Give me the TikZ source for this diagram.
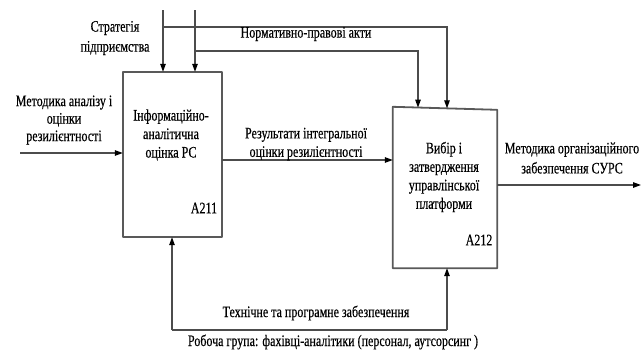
\documentclass[tikz,border=0pt]{standalone}
\usepackage{fontspec}
\setmainfont{Liberation Serif}[FakeStretch=0.75,FakeBold=0.4]
\usetikzlibrary{arrows.meta,calc}
\begin{document}
\begin{tikzpicture}[x=1pt,y=-1pt,
  boxarea/.style={draw=none,inner sep=0,minimum width=#1},
  boxline/.style={draw=black!65,line width=1.8pt,line join=round},
  conn/.style={draw=black!70,line width=1.2pt},
  tip/.style={-{Triangle[length=8pt,width=5.5pt,fill=black,color=black]}},
  lbl/.style={font=\fontsize{16}{18.5}\selectfont,align=center,inner sep=0,text=black},
  code/.style={font=\fontsize{16}{18}\selectfont,inner sep=0,text=black}]
\useasboundingbox (0,0) rectangle (642,351);
% boxes
\node[boxarea=99pt,minimum height=165pt] (a211) at (172.5,154.5) {};
\node[boxarea=104pt,minimum height=161pt] (a212) at (445,187.5) {};
\draw[boxline] (a211.north west) rectangle (a211.south east);
\draw[boxline] (a212.north west) -- ($(a212.north east)+(0,3)$) -- (a212.south east) -- (a212.south west) -- cycle;
% box texts
\node[lbl] (t211) at (171,135) {Інформаційно-\\аналітична\\оцінка РС};
\node[code] (n211) at (204,208) {A211};
\node[lbl] (t212) at (444,177) {Вибір і\\затвердження\\управлінської\\платформи};
\node[code] (n212) at (479,240) {A212};
% controls
\coordinate (c1) at (163,10);
\coordinate (c2) at (195,10);
\coordinate (c1b) at (163,27);
\coordinate (c2b) at (195,51);
\coordinate (c1r) at (447,27);
\coordinate (c2r) at (418,51);
\draw[conn,tip] (c1) -- (c1 |- a211.north);
\draw[conn,tip] (c2) -- (c2 |- a211.north);
\draw[conn,tip] (c1b) -- (c1r) -- ($(c1r |- a212.north)+(0,1.5)$);
\draw[conn,tip] (c2b) -- (c2r) -- ($(c2r |- a212.north)+(0,0.8)$);
\node[lbl,font=\fontsize{16}{20}\selectfont] (lstrat) at (115,38) {Стратегія\\підприємства};
\node[lbl] (lnorm) at (306,34) {Нормативно-правові акти};
% input
\coordinate (in1) at (20,153);
\draw[conn,tip] (in1) -- (in1 -| a211.west);
\node[lbl,font=\fontsize{16}{17.5}\selectfont] (lin) at (64,120) {Методика аналізу і\\оцінки\\резилієнтності};
% A211 -> A212
\coordinate (o1) at (222,160);
\draw[conn,tip] (o1 -| a211.east) -- (o1 -| a212.west);
\node[lbl] (lres) at (306,144) {Результати інтегральної\\оцінки резилієнтності};
% output
\coordinate (out) at (641,185);
\draw[conn,tip] (out -| a212.east) -- (out);
\node[lbl,font=\fontsize{16}{20}\selectfont] (lout) at (572,158) {Методика організаційного\\забезпечення СУРС};
% mechanisms
\coordinate (m1) at (172,330);
\coordinate (m2) at (447,330);
\draw[conn,tip] (m1) -- (m1 |- a211.south);
\draw[conn,tip] (m2) -- (m2 |- a212.south);
\draw[conn] (m1) -- (m2);
\node[lbl] (lmech1) at (316,313) {Технічне та програмне забезпечення};
\node[lbl] (lmech2) at (333,342) {Робоча група: фахівці-аналітики (персонал, аутсорсинг )};
\end{tikzpicture}
\end{document}
